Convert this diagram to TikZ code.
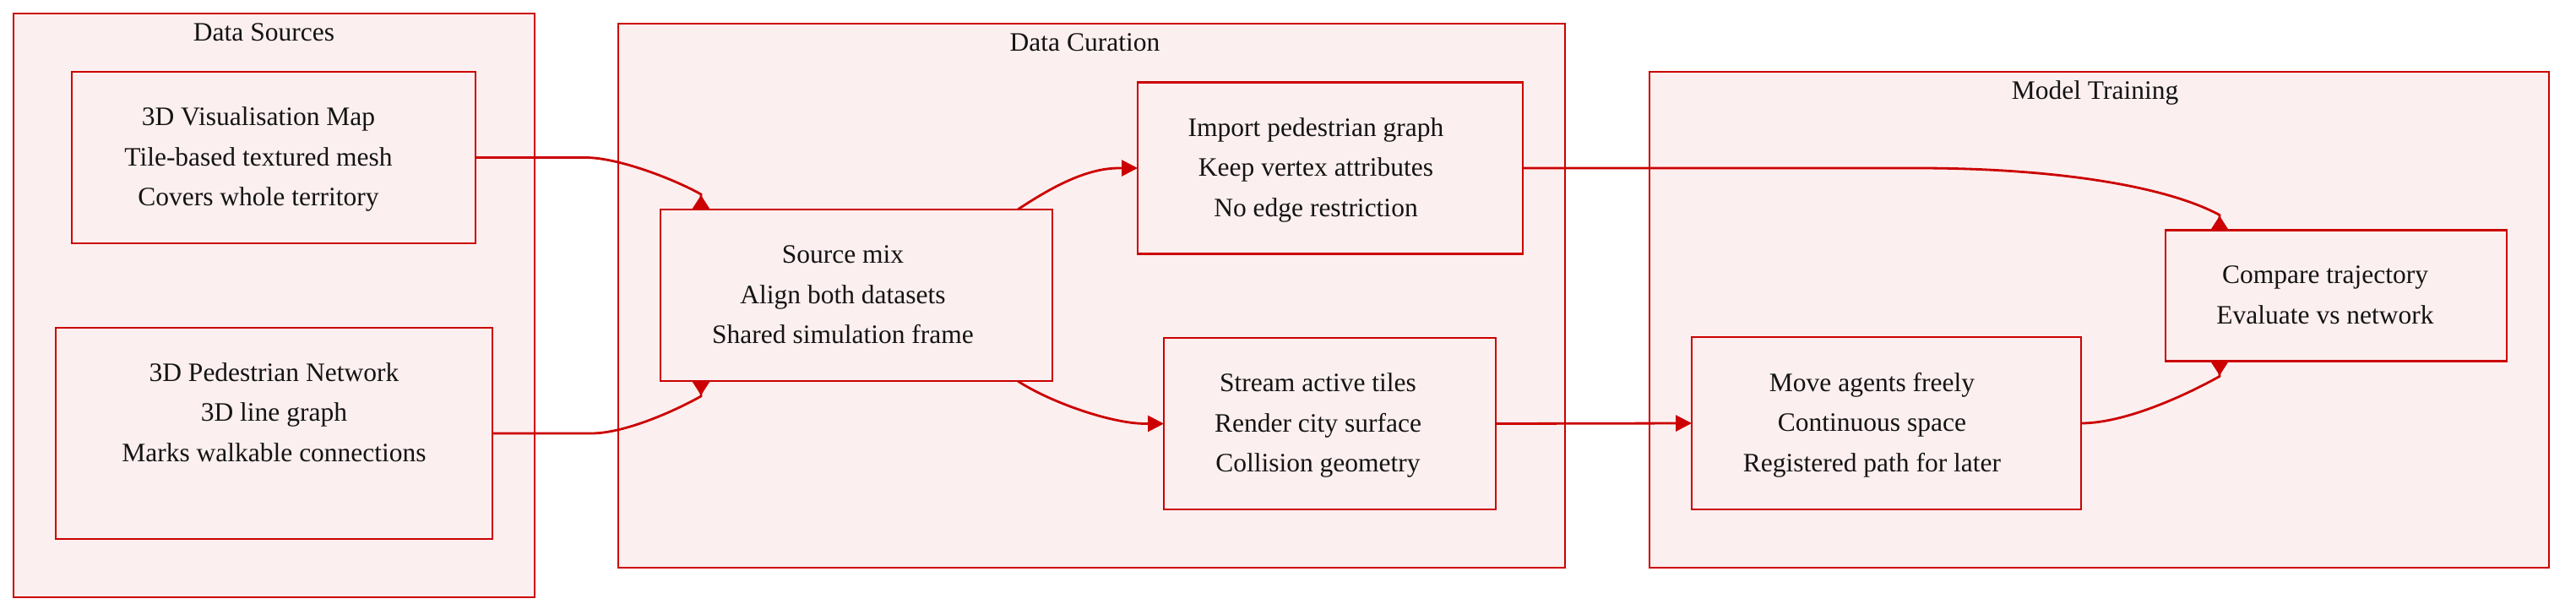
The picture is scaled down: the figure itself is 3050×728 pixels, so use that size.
\documentclass[tikz,border=0pt]{standalone}
\usepackage{fontspec}
\setmainfont{Liberation Serif}
\usetikzlibrary{arrows.meta,calc}
\definecolor{strk}{RGB}{204,0,0}
\definecolor{fll}{RGB}{252,239,239}
\definecolor{txt}{RGB}{20,20,20}
\newcommand\boxtext[2]{\begin{tabular}{@{}c@{}}#2\end{tabular}\hspace*{#1}}
\begin{document}
\begin{tikzpicture}[x=1pt,y=-1pt,
  cluster/.style={draw=strk,fill=fll,line width=2.5pt,rectangle,inner sep=0pt,outer sep=0pt},
  box/.style={draw=strk,fill=fll,line width=2.5pt,rectangle,inner sep=0pt,outer sep=0pt,text=txt,font=\fontsize{31.5}{47.5}\selectfont},
  title/.style={anchor=base,text=txt,font=\fontsize{31.5}{38}\selectfont,inner sep=0pt},
  edge/.style={draw=strk,line width=2.8pt},
  tipv/.style={-{Triangle[reversed,length=17pt,width=21pt]}},
  tiph/.style={-{Triangle[length=19pt,width=19pt]}}
]
\fill[white] (0,0) rectangle (3050,728);
\useasboundingbox (0,0) rectangle (3050,728);

% clusters
\node[cluster,minimum width=617pt,minimum height=691pt] (ds) at (324.5,361.5) {};
\node[cluster,minimum width=1121pt,minimum height=644pt] (dc) at (1292.5,350) {};
\node[cluster,minimum width=1065pt,minimum height=587pt] (mt) at (2485.5,378.5) {};
\node[title] (dst) at ($(ds.north)+(-12,32)$) {Data Sources};
\node[title] (dct) at ($(dc.north)+(-8,32)$) {Data Curation};
\node[title] (mtt) at ($(mt.north)+(-5,32)$) {Model Training};

% boxes
\node[box,minimum width=478pt,minimum height=203pt] (vis) at (324,186.5) {\boxtext{36pt}{3D Visualisation Map\\Tile-based textured mesh\\Covers whole territory}};
\node[box,minimum width=517pt,minimum height=250pt] (ped) at (324.5,513) {\boxtext{0pt}{3D Pedestrian Network\\3D line graph\\Marks walkable connections\\ \mbox{}}};
\node[box,minimum width=464pt,minimum height=203pt] (mix) at (1014,349.5) {\boxtext{32pt}{Source mix\\Align both datasets\\Shared simulation frame}};
\node[box,minimum width=456pt,minimum height=203pt] (imp) at (1575,199) {\boxtext{34pt}{Import pedestrian graph\\Keep vertex attributes\\No edge restriction}};
\node[box,minimum width=393pt,minimum height=203pt] (str) at (1574.5,501.5) {\boxtext{28pt}{Stream active tiles\\Render city surface\\Collision geometry}};
\node[box,minimum width=461pt,minimum height=204pt] (mov) at (2233.5,501) {\boxtext{34pt}{Move agents freely\\Continuous space\\Registered path for later}};
\node[box,minimum width=404pt,minimum height=155pt] (cmp) at (2766,350) {\boxtext{26pt}{Compare trajectory\\Evaluate vs network}};

% edges
\draw[edge,tipv] (vis.east) -- ++(130,0) .. controls +(40,0) and +(-30,-17) .. ([xshift=48pt,yshift=18pt]mix.north west) -- ([xshift=48pt]mix.north west);
\draw[edge,tipv] (ped.east) -- ++(117,0) .. controls +(40,0) and +(-30,17) .. ([xshift=48pt,yshift=-18pt]mix.south west) -- ([xshift=48pt]mix.south west);
\draw[edge,tiph] ([xshift=-41pt]mix.north east) .. controls +(38,-25) and +(-40,0) .. ([xshift=-22pt]imp.west) -- (imp.west);
\draw[edge,tiph] ([xshift=-41pt]mix.south east) .. controls +(38,25) and +(-40,0) .. ([xshift=-22pt]str.west) -- (str.west);
\draw[edge,tipv] (imp.east) -- ++(467,0) .. controls +(160,0) and +(-65,-35) .. ([xshift=64pt,yshift=18pt]cmp.north west) -- ([xshift=64pt]cmp.north west);
\draw[edge,tiph] (str.east) -- (mov.west);
\draw[edge,tipv] (mov.east) .. controls +(50,0) and +(-45,25) .. ([xshift=64pt,yshift=-18pt]cmp.south west) -- ([xshift=64pt]cmp.south west);
\end{tikzpicture}
\end{document}
